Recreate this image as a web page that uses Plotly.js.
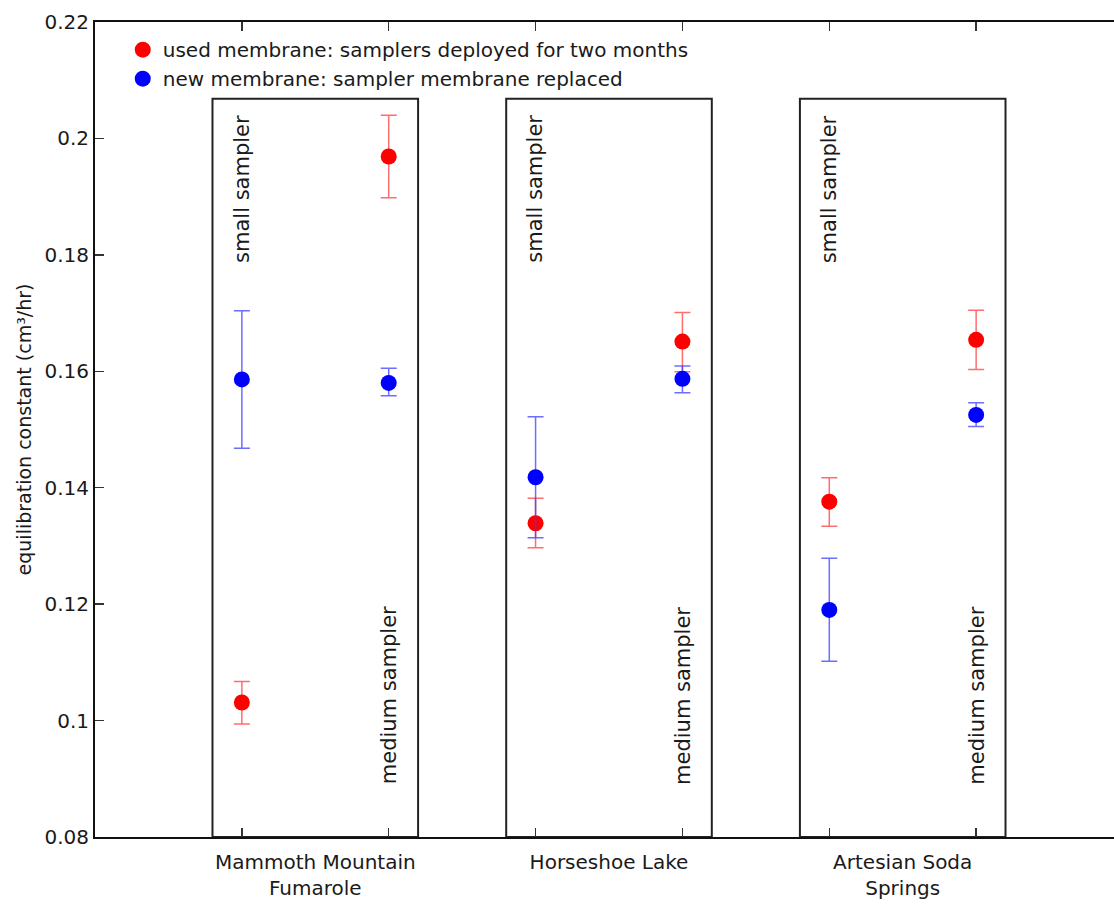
<!DOCTYPE html>
<html>
<head>
<meta charset="utf-8">
<script src="https://cdn.plot.ly/plotly-3.0.1.min.js"></script>
<style>
html, body { margin: 0; padding: 0; background: #fff; overflow: hidden; }
#chart { width: 1123px; height: 905px; }
</style>
</head>
<body>
<div id="chart"></div>
<script>
// Sites (each has a small sampler and a medium sampler)
const sites = ["Mammoth Mountain<br>Fumarole", "Horseshoe Lake", "Artesian Soda<br>Springs"];
const samplers = ["small sampler", "medium sampler"];

// Order: site1-small, site1-medium, site2-small, site2-medium, site3-small, site3-medium
const usedMean  = [0.1031, 0.1969, 0.1339, 0.1651, 0.1376, 0.1654];
const usedUpper = [0.1067, 0.2040, 0.1382, 0.1701, 0.1417, 0.1705];
const usedLower = [0.0994, 0.1898, 0.1297, 0.1599, 0.1334, 0.1603];

const newMean   = [0.1586, 0.1580, 0.1418, 0.1587, 0.1190, 0.1525];
const newUpper  = [0.1704, 0.1605, 0.1522, 0.1609, 0.1279, 0.1546];
const newLower  = [0.1468, 0.1558, 0.1314, 0.1563, 0.1102, 0.1505];

const yTicks = [0.08, 0.10, 0.12, 0.14, 0.16, 0.18, 0.20, 0.22];

const legendUsed = "used membrane: samplers deployed for two months";
const legendNew  = "new membrane: sampler membrane replaced";
const yTitle = "equilibration constant (cm³/hr)";

// positions derived from indices
const pos = usedMean.map((_, i) => i + 1);
const siteCenters = sites.map((_, i) => 2 * i + 1.5);

const font = "DejaVu Sans, Liberation Sans, Arial, sans-serif";
const ink = "#1a1a1a";

function trace(name, mean, up, lo, color, errColor) {
  return {
    type: "scatter", mode: "markers", name: name,
    x: pos, y: mean,
    marker: { color: color, size: 16 },
    error_y: {
      type: "data", symmetric: false,
      array: up.map((u, i) => u - mean[i]),
      arrayminus: lo.map((l, i) => mean[i] - l),
      color: errColor, thickness: 1.5, width: 8
    },
    cliponaxis: false
  };
}

const data = [
  trace(legendUsed, usedMean, usedUpper, usedLower, "#ff0000", "rgba(255,60,60,0.75)"),
  trace(legendNew, newMean, newUpper, newLower, "#0000ff", "rgba(60,60,255,0.75)")
];

const boxTop = 0.2068;
const shapes = sites.map((_, i) => ({
  type: "rect", xref: "x", yref: "y",
  x0: 2 * i + 0.8, x1: 2 * i + 2.2, y0: 0.08, y1: boxTop,
  line: { color: "#222", width: 2 }, fillcolor: "rgba(0,0,0,0)", layer: "below"
}));

const annotations = [];
sites.forEach((_, i) => {
  annotations.push({
    xref: "x", yref: "y", x: 2 * i + 1, y: 0.1913, text: samplers[0],
    textangle: -90, showarrow: false, xanchor: "center", yanchor: "middle",
    font: { family: font, size: 21, color: ink }
  });
  annotations.push({
    xref: "x", yref: "y", x: 2 * i + 2, y: 0.1043, text: samplers[1],
    textangle: -90, showarrow: false, xanchor: "center", yanchor: "middle",
    font: { family: font, size: 21, color: ink }
  });
});

const layout = {
  width: 1123, height: 905,
  margin: { l: 95, r: 0, t: 22, b: 68 },
  paper_bgcolor: "#fff", plot_bgcolor: "#fff",
  font: { family: font, size: 20, color: ink },
  showlegend: true,
  legend: {
    x: 0.027, y: 0.99, xanchor: "left", yanchor: "top",
    bgcolor: "rgba(0,0,0,0)", borderwidth: 0,
    font: { family: font, size: 20, color: ink },
    tracegroupgap: 0, itemwidth: 30
  },
  xaxis: {
    range: [0, 7], showgrid: false, zeroline: false,
    tickmode: "array", tickvals: siteCenters, ticktext: sites,
    ticks: "", showline: true, linecolor: "#111", linewidth: 2, mirror: true,
    ticklabelstandoff: 6,
    tickfont: { family: font, size: 20, color: ink }
  },
  xaxis2: {
    overlaying: "x", matches: "x", range: [0, 7], showgrid: false, zeroline: false,
    tickmode: "array", tickvals: pos, showticklabels: false,
    ticks: "inside", ticklen: 9, tickwidth: 1.5, tickcolor: "#333",
    showline: false, mirror: "ticks", side: "bottom", anchor: "y"
  },
  yaxis: {
    range: [0.08, 0.22], showgrid: false, zeroline: false,
    tickmode: "array", tickvals: yTicks,
    ticks: "inside", ticklen: 9, tickwidth: 1.5, tickcolor: "#333",
    showline: true, linecolor: "#111", linewidth: 2, mirror: "ticks",
    tickfont: { family: font, size: 20, color: ink },
    title: { text: yTitle, font: { family: font, size: 19, color: ink }, standoff: 8 }
  },
  shapes: shapes,
  annotations: annotations
};

// an invisible trace on xaxis2 so its ticks are drawn
data.push({ type: "scatter", x: [pos[0]], y: [usedMean[0]], xaxis: "x2", yaxis: "y",
  mode: "markers", marker: { opacity: 0 }, showlegend: false, hoverinfo: "skip" });

Plotly.newPlot("chart", data, layout, { displayModeBar: false, staticPlot: true });
</script>
</body>
</html>
